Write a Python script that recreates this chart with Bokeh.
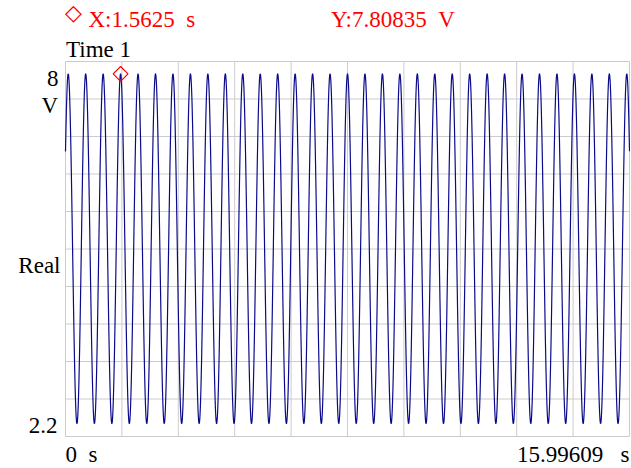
import numpy as np
from bokeh.plotting import figure
from bokeh.models import Range1d, Label
from bokeh.embed import file_html
from bokeh.resources import INLINE

# ---- data ----
sample_rate_hz = 256
n_samples = 4096
signal_freq_hz = 2.02          # ~32 cycles across the record
peak_time_s = 1.5625           # cursor sits on a crest
peak_volts = 7.80835
trough_volts = 2.40
x_start, x_end = 0.0, 15.99609
y_bottom, y_top = 2.2, 8.0
cursor_x = [1.5625]
cursor_y = [7.80835]
header_mark = "\u25c7"
header_x = "X:1.5625\u00a0\u00a0s"
header_y = "Y:7.80835\u00a0\u00a0V"
title_text = "Time 1"
y_texts = ["8", "V", "Real", "2.2"]
x_texts = ["0\u00a0\u00a0s", "15.99609\u00a0\u00a0\u00a0s"]
n_div = 10

t = np.arange(n_samples) / sample_rate_hz
offset = (peak_volts + trough_volts) / 2
amp = (peak_volts - trough_volts) / 2
volts = offset + amp * np.cos(2 * np.pi * signal_freq_hz * (t - peak_time_s))

# ---- layout: plot box in canvas pixels ----
W, H = 630, 466
BL, BR, BT, BB = 65.0, 629.0, 61.0, 436.0
sx = (x_end - x_start) / (BR - BL)
sy = (y_top - y_bottom) / (BB - BT)

def dx(px):
    return x_start + (px - BL) * sx

def dy(py):
    return y_top - (py - BT) * sy

p = figure(width=W, height=H, min_border=0,
           x_range=Range1d(dx(0), dx(W)), y_range=Range1d(dy(H), dy(0)),
           x_axis_location=None, y_axis_location=None,
           toolbar_location=None, title=None, output_backend="svg")
p.xgrid.visible = False
p.ygrid.visible = False
p.outline_line_color = None
p.background_fill_color = "white"
p.border_fill_color = "white"

GRID = "#cccccc"
xt = [x_start + k * (x_end - x_start) / n_div for k in range(1, n_div)]
yt = [y_bottom + k * (y_top - y_bottom) / n_div for k in range(1, n_div)]
p.segment(x0=xt, x1=xt, y0=[y_bottom] * len(xt), y1=[y_top] * len(xt),
          line_color=GRID, line_width=1)
p.segment(x0=[x_start] * len(yt), x1=[x_end] * len(yt), y0=yt, y1=yt,
          line_color=GRID, line_width=1)
p.quad(left=[x_start], right=[x_end], bottom=[y_bottom], top=[y_top],
       fill_color=None, line_color=GRID, line_width=1)

p.line(t, volts, line_color="#0a0a8a", line_width=1.2)
p.scatter(cursor_x, cursor_y, marker="square", angle=np.pi / 4, size=10.5,
          fill_color=None, line_color="#ff0000", line_width=1.2)

FONT = "Liberation Serif"
FS = "23px"
DY = -7.5   # baseline correction

def lab(text, px, py, align="left", color="black", font=FONT, size=FS, baseline="alphabetic"):
    p.add_layout(Label(x=dx(px), y=dy(py + DY), text=text, text_align=align,
                       text_baseline=baseline, text_color=color,
                       text_font=font, text_font_size=size))

lab(header_mark, 64.5, 19.5, color="#ff0000", font="DejaVu Sans", size="22px", baseline="middle")
lab(header_x, 88, 26.7, color="#ff0000")
lab(header_y, 330.5, 26.7, color="#ff0000")
lab(title_text, 65.5, 56.7)
lab(y_texts[0], 58, 85, align="right")
lab(y_texts[1], 57.5, 112.7, align="right")
lab(y_texts[2], 60, 272.3, align="right")
lab(y_texts[3], 57, 432.3, align="right")
lab(x_texts[0], 65, 461.7)
lab(x_texts[1], 629, 461.7, align="right")

open("out.html", "w").write(file_html(p, INLINE))
